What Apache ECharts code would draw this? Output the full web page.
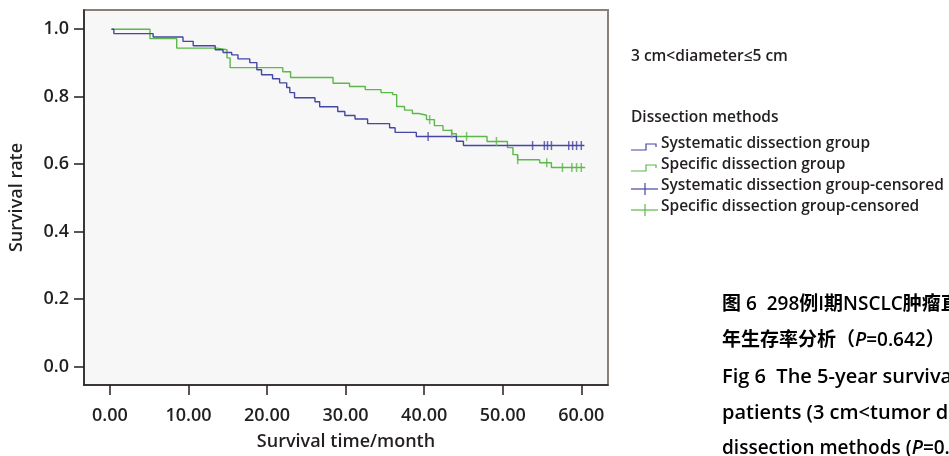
<!DOCTYPE html>
<html>
<head>
<meta charset="utf-8">
<script src="https://cdn.jsdelivr.net/npm/echarts@6/dist/echarts.min.js"></script>
<style>
html,body{margin:0;padding:0;background:#fff;}
#c{width:949px;height:456px;}
</style>
</head>
<body>
<div id="c"></div>
<script>
// ---- data ----
var xTicks = [0, 10, 20, 30, 40, 50, 60];
var yTicks = [0, 0.2, 0.4, 0.6, 0.8, 1.0];

var sysTimes = [0.2, 0.5, 5.5, 9.3, 10.6, 13.4, 14.4, 15.5, 16.3, 17.8, 18.7, 19.3, 20.7, 21.6, 22.5, 22.9, 23.5, 26.1, 26.7, 29.0, 29.9, 31.2, 32.8, 35.6, 36.3, 39.0, 44.1, 45.0, 60.4];
var sysSurv  = [1.0, 0.987, 0.977, 0.964, 0.951, 0.939, 0.931, 0.924, 0.912, 0.901, 0.880, 0.865, 0.853, 0.841, 0.827, 0.812, 0.797, 0.785, 0.770, 0.756, 0.744, 0.734, 0.720, 0.708, 0.694, 0.682, 0.668, 0.655, 0.655];

var speTimes = [0.2, 5.1, 8.5, 13.6, 14.9, 15.3, 22.0, 23.0, 28.4, 30.5, 32.5, 34.5, 36.0, 36.5, 37.5, 38.5, 39.3, 40.3, 41.3, 42.4, 43.5, 44.1, 48.0, 50.6, 51.3, 51.9, 54.7, 56.2, 60.5];
var speSurv  = [1.0, 0.972, 0.944, 0.939, 0.915, 0.886, 0.874, 0.857, 0.840, 0.830, 0.821, 0.812, 0.806, 0.771, 0.760, 0.750, 0.745, 0.732, 0.714, 0.700, 0.690, 0.682, 0.667, 0.649, 0.628, 0.613, 0.604, 0.590, 0.590];

var sysCensTimes = [40.5, 53.8, 55.3, 55.7, 56.2, 58.4, 58.9, 59.4, 60.0];
var sysCensSurv  = [0.682, 0.655, 0.655, 0.655, 0.655, 0.655, 0.655, 0.655, 0.655];

var speCensTimes = [40.7, 43.5, 45.4, 49.2, 51.9, 55.6, 57.6, 58.8, 59.4, 60.0];
var speCensSurv  = [0.732, 0.690, 0.682, 0.667, 0.613, 0.604, 0.590, 0.590, 0.590, 0.590];

var seriesNames = ['Systematic dissection group', 'Specific dissection group',
  'Systematic dissection group-censored', 'Specific dissection group-censored'];

// ---- chart ----
function zip(a, b) { return a.map(function (v, i) { return [v, b[i]]; }); }

var FONT = '"Open Sans", "Noto Sans CJK SC", sans-serif';
var TXT = '#231f20';
var BLUE = '#4646a6';
var GREEN = '#5cb848';

var chart = echarts.init(document.getElementById('c'), null, {renderer: 'canvas'});

var legendY = [147, 168, 189, 210];
var legendX = 631;
var LF = '600 15.5px ' + FONT;
var graphics = [
  {type: 'text', left: legendX, top: 49, style: {text: '3 cm<diameter≤5 cm', font: LF, fill: TXT}},
  {type: 'text', left: legendX, top: 110, style: {text: 'Dissection methods', font: LF, fill: TXT}},
  {type: 'polyline', shape: {points: [[631, 150], [646, 150], [646, 144], [656, 144], [656, 147]]}, style: {stroke: BLUE, lineWidth: 1.2, fill: null}},
  {type: 'polyline', shape: {points: [[631, 171], [646, 171], [646, 165], [656, 165], [656, 168]]}, style: {stroke: GREEN, lineWidth: 1.2, fill: null}},
  {type: 'line', shape: {x1: 631, y1: 189, x2: 658, y2: 189}, style: {stroke: BLUE, lineWidth: 1.2}},
  {type: 'line', shape: {x1: 645, y1: 183, x2: 645, y2: 195}, style: {stroke: BLUE, lineWidth: 1.2}},
  {type: 'line', shape: {x1: 631, y1: 210, x2: 658, y2: 210}, style: {stroke: GREEN, lineWidth: 1.2}},
  {type: 'line', shape: {x1: 645, y1: 204, x2: 645, y2: 216}, style: {stroke: GREEN, lineWidth: 1.2}}
];
seriesNames.forEach(function (n, i) {
  graphics.push({type: 'text', left: 661, top: legendY[i] - 11, style: {text: n, font: LF, fill: TXT}});
});
var capRich = {
  n: {fontFamily: FONT, fontSize: 19, fontWeight: 600, color: TXT},
  e: {fontFamily: FONT, fontSize: 20, fontWeight: 600, color: TXT},
  i: {fontFamily: FONT, fontSize: 19, fontWeight: 600, fontStyle: 'italic', color: TXT}
};
var caption = [
  '{n|图 6  298例I期NSCLC肿瘤直径3 cm<d≤5 cm患者不同清扫方式5}',
  '{n|年生存率分析（}{i|P}{n|=0.642）}',
  '{e|Fig 6  The 5-year survival analysis of 298 stage I NSCLC}',
  '{e|patients (3 cm<tumor diameter≤5 cm) with different}',
  '{n|dissection methods (}{i|P}{n|=0.642)}'
];
var capY = [308, 344, 380, 416, 452];
caption.forEach(function (t, i) {
  graphics.push({type: 'text', left: 722, top: capY[i] - 13, style: {text: t, rich: capRich}});
});

var axisFont = {fontSize: 18, fontWeight: 600, color: TXT, fontFamily: FONT};

var option = {
  animation: false,
  backgroundColor: '#ffffff',
  textStyle: {fontFamily: FONT},
  grid: {left: 84, right: 341, top: 10, bottom: 71, outerBoundsMode: 'none', containLabel: false,
    show: true, backgroundColor: '#f6f7f6', borderColor: '#8a8079', borderWidth: 2},
  xAxis: {
    type: 'value', min: -3.3, max: 63.4,
    name: 'Survival time/month', nameLocation: 'middle', nameGap: 48,
    nameTextStyle: {fontSize: 18, fontWeight: 600, color: TXT, fontFamily: FONT},
    axisLine: {show: true, onZero: false, lineStyle: {color: '#231f20', width: 1.5}},
    axisTick: {show: true, length: 10, inside: false, customValues: xTicks, lineStyle: {color: '#231f20', width: 1.5}},
    axisLabel: Object.assign({customValues: xTicks, margin: 22,
      formatter: function (v) { return v.toFixed(2); }}, axisFont),
    splitLine: {show: false}
  },
  yAxis: {
    type: 'value', min: -0.055, max: 1.057,
    name: 'Survival rate', nameLocation: 'middle', nameGap: 58, nameRotate: 90,
    nameTextStyle: {fontSize: 18, fontWeight: 600, color: TXT, fontFamily: FONT},
    axisLine: {show: true, onZero: false, lineStyle: {color: '#231f20', width: 1.5}},
    axisTick: {show: true, length: 10, inside: false, customValues: yTicks, lineStyle: {color: '#231f20', width: 1.5}},
    axisLabel: Object.assign({customValues: yTicks, margin: 15,
      formatter: function (v) { return v.toFixed(1); }}, axisFont),
    splitLine: {show: false}
  },
  series: [
    {name: seriesNames[0], type: 'line', step: 'end', data: zip(sysTimes, sysSurv), showSymbol: false, symbol: 'none',
      lineStyle: {color: BLUE, width: 1.4}, z: 3},
    {name: seriesNames[1], type: 'line', step: 'end', data: zip(speTimes, speSurv), showSymbol: false, symbol: 'none',
      lineStyle: {color: GREEN, width: 1.4}, z: 2},
    {name: seriesNames[2], type: 'scatter', data: zip(sysCensTimes, sysCensSurv), symbol: 'rect', symbolSize: [1.5, 9],
      itemStyle: {color: BLUE}, z: 4},
    {name: seriesNames[3], type: 'scatter', data: zip(speCensTimes, speCensSurv), symbol: 'rect', symbolSize: [1.5, 9],
      itemStyle: {color: GREEN}, z: 4}
  ],
  graphic: graphics
};
chart.setOption(option);
</script>
</body>
</html>
